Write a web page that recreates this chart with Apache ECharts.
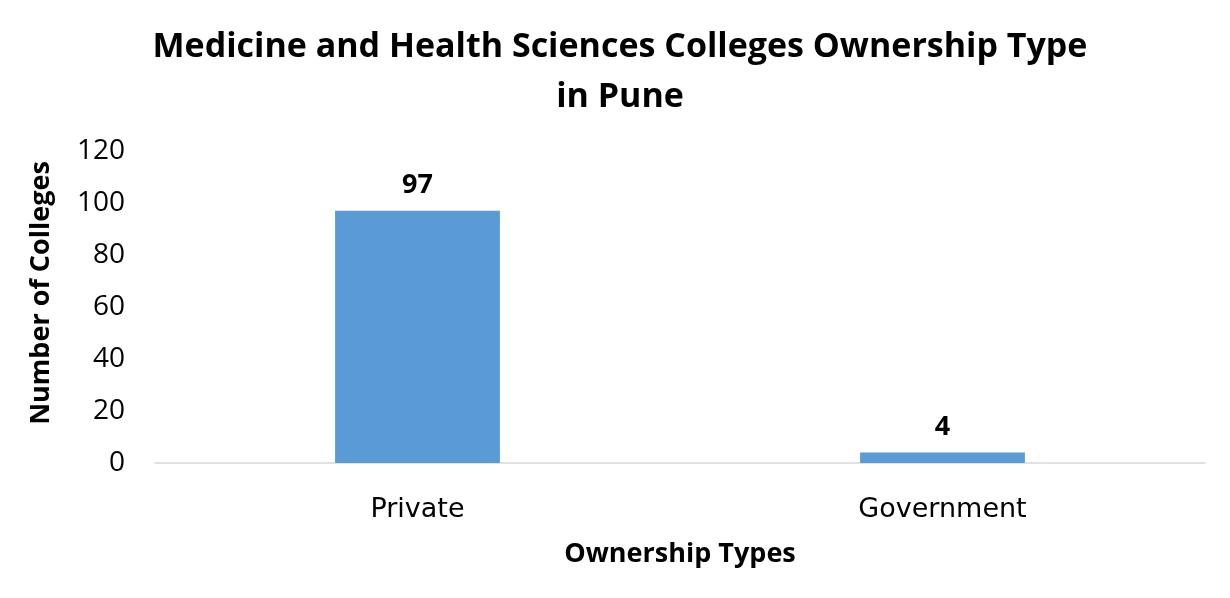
<!DOCTYPE html>
<html><head><meta charset="utf-8">
<script src="https://cdn.jsdelivr.net/npm/echarts@6/dist/echarts.min.js"></script>
<style>html,body{margin:0;padding:0;background:#fff}#c{width:1230px;height:598px}</style>
</head><body><div id="c"></div>
<script>
const titleLines = ['Medicine and Health Sciences Colleges Ownership Type', 'in Pune'];
const categories = ['Private', 'Government'];
const values = [97, 4];
const yTicks = [0, 20, 40, 60, 80, 100, 120];
const xName = 'Ownership Types';
const yName = 'Number of Colleges';

const chart = echarts.init(document.getElementById('c'));
chart.setOption({
  animation: false,
  title: {
    text: titleLines.join('\n'), left: 615, textAlign: 'center', top: 17,
    textStyle: { fontFamily: 'Open Sans', fontWeight: 'bold', fontSize: 34, lineHeight: 50, color: '#000' }
  },
  grid: { left: 155, right: 25, top: 151, bottom: 135 },
  xAxis: {
    type: 'category', data: categories,
    name: xName, nameLocation: 'middle', nameGap: 78,
    nameTextStyle: { fontFamily: 'Open Sans', fontWeight: 'bold', fontSize: 27, color: '#000' },
    axisLine: { lineStyle: { color: '#d9d9d9', width: 1.5 } },
    axisTick: { show: false },
    axisLabel: { fontFamily: 'DejaVu Sans', fontSize: 27, color: '#000', margin: 33 }
  },
  yAxis: {
    type: 'value', min: yTicks[0], max: yTicks[yTicks.length - 1], interval: 20,
    name: yName, nameLocation: 'middle', nameGap: 100, nameRotate: 90,
    nameTextStyle: { fontFamily: 'Open Sans', fontWeight: 'bold', fontSize: 27, color: '#000', padding: [0, 0, 0, 28] },
    splitLine: { show: false }, axisLine: { show: false }, axisTick: { show: false },
    axisLabel: { fontFamily: 'Open Sans', fontSize: 28, color: '#000', margin: 30 }
  },
  series: [{
    type: 'bar', data: values, barWidth: '31.4%',
    itemStyle: { color: '#5b9bd5' },
    label: { show: true, position: 'top', distance: 12, fontFamily: 'Open Sans', fontWeight: 'bold', fontSize: 27, color: '#000' }
  }]
});
</script></body></html>
